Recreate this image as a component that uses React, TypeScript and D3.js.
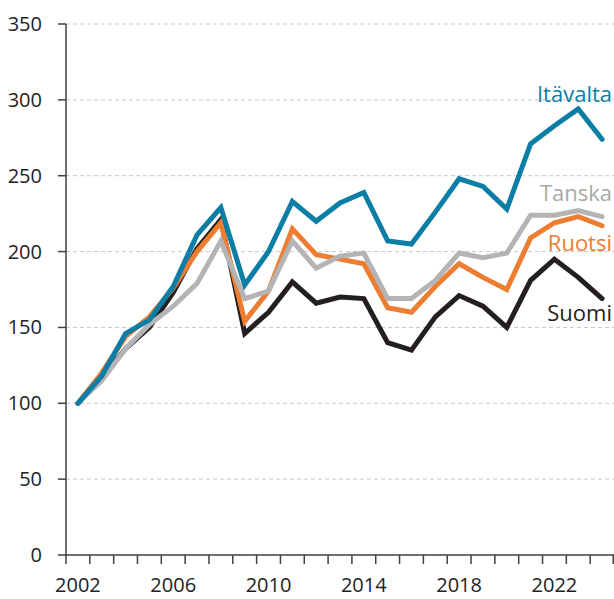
import React, { useEffect, useRef } from "react";
import * as d3 from "d3";

const years = [2002,2003,2004,2005,2006,2007,2008,2009,2010,2011,2012,2013,2014,2015,2016,2017,2018,2019,2020,2021,2022,2023,2024];
const itavalta = [100,118,146,155,177,211,229,178,200,233,220,232,239,207,205,226,248,243,228,271,283,294,274];
const tanska = [100,115,136,152,164,179,207,169,174,207,189,197,199,169,169,181,199,196,199,224,224,227,223];
const ruotsi = [100,120,144,157,176,200,219,154,174,215,198,195,192,163,160,177,192,183,175,209,219,223,217];
const suomi = [100,117,136,150,173,202,221,146,160,180,166,170,169,140,135,157,171,164,150,181,195,183,169];
const yTicks = [0,50,100,150,200,250,300,350];
const xLabels = [2002,2006,2010,2014,2018,2022];

const series = [
  { name: "Suomi", values: suomi, color: "#231f20" },
  { name: "Ruotsi", values: ruotsi, color: "#ed7d31" },
  { name: "Tanska", values: tanska, color: "#b4b4b6" },
  { name: "Itävalta", values: itavalta, color: "#0b7ea5" },
];

const labelValues = [
  { name: "Itävalta", v: 298.5, color: "#0b7ea5" },
  { name: "Tanska", v: 233.5, color: "#a9a9ab" },
  { name: "Ruotsi", v: 200.5, color: "#ed7d31" },
  { name: "Suomi", v: 154.5, color: "#231f20" },
];

export default function App() {
  const ref = useRef<SVGSVGElement>(null);
  useEffect(() => {
    const left = 66, right = 614, top = 24, bottom = 555;
    const svg = d3.select(ref.current);
    svg.selectAll("*").remove();
    const font = "'Open Sans', sans-serif";

    const x = d3.scaleBand<number>().domain(years).range([left, right]);
    const xc = (yr: number) => (x(yr) as number) + x.bandwidth() / 2;
    const y = d3.scaleLinear().domain([0, 350]).range([bottom, top]);

    svg.append("g").selectAll("line").data(yTicks.filter(t => t > 0)).join("line")
      .attr("x1", left).attr("x2", right)
      .attr("y1", d => y(d)).attr("y2", d => y(d))
      .attr("stroke", "#c8c8c8").attr("stroke-width", 1).attr("stroke-dasharray", "4,3");

    const ya = svg.append("g");
    ya.append("line").attr("x1", left).attr("x2", left).attr("y1", top).attr("y2", bottom)
      .attr("stroke", "#404040").attr("stroke-width", 1.5);
    ya.selectAll("line.t").data(yTicks).join("line").attr("class", "t")
      .attr("x1", left - 8).attr("x2", left).attr("y1", d => y(d)).attr("y2", d => y(d))
      .attr("stroke", "#404040").attr("stroke-width", 1.5);
    ya.selectAll("text").data(yTicks).join("text")
      .attr("x", 42).attr("y", d => y(d)).attr("dy", "0.35em")
      .attr("text-anchor", "end").attr("font-family", font).attr("font-size", 20)
      .attr("fill", "#222").text(d => String(d));

    const xa = svg.append("g");
    xa.append("line").attr("x1", left).attr("x2", right).attr("y1", bottom).attr("y2", bottom)
      .attr("stroke", "#404040").attr("stroke-width", 1.5);
    const bounds = years.map(yr => x(yr) as number).concat([right]);
    xa.selectAll("line.t").data(bounds).join("line").attr("class", "t")
      .attr("x1", d => Math.min(d, right - 0.75)).attr("x2", d => Math.min(d, right - 0.75))
      .attr("y1", bottom).attr("y2", bottom + 9)
      .attr("stroke", "#404040").attr("stroke-width", 1.5);
    xa.selectAll("text").data(xLabels).join("text")
      .attr("x", d => xc(d)).attr("y", 592)
      .attr("text-anchor", "middle").attr("font-family", font).attr("font-size", 20)
      .attr("fill", "#222").text(d => String(d));

    const line = d3.line<number>().x((_, i) => xc(years[i])).y(d => y(d));
    svg.append("g").selectAll("path").data(series).join("path")
      .attr("d", d => line(d.values) as string)
      .attr("fill", "none").attr("stroke", d => d.color).attr("stroke-width", 5)
      .attr("stroke-linejoin", "miter").attr("stroke-linecap", "round");

    svg.append("g").selectAll("text").data(labelValues).join("text")
      .attr("x", 612).attr("y", d => y(d.v))
      .attr("text-anchor", "end").attr("font-family", font).attr("font-size", 22)
      .attr("fill", d => d.color).text(d => d.name);
  }, []);
  return (
    <svg ref={ref} width={614} height={599}
      style={{ position: "absolute", left: 0, top: 0, background: "#fff" }} />
  );
}
